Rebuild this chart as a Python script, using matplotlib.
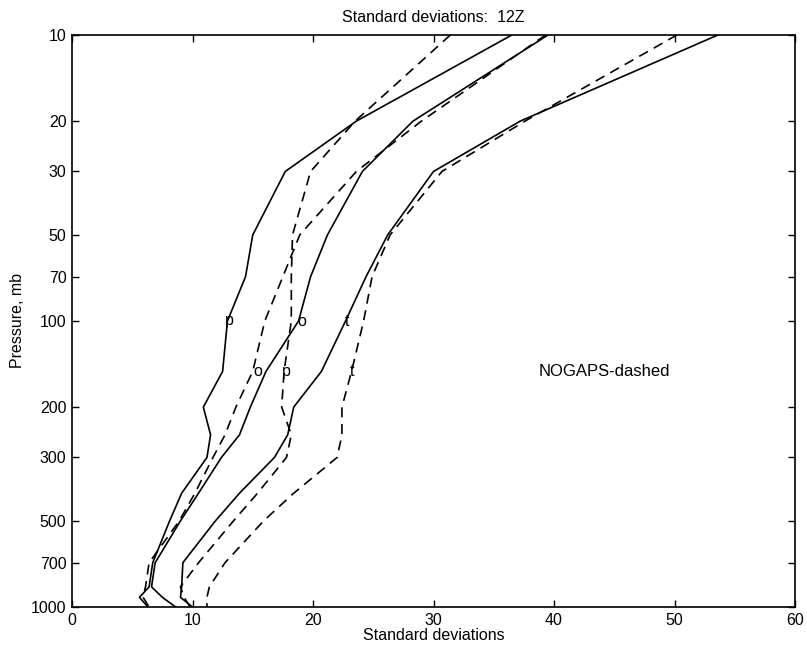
import numpy as np
import matplotlib
matplotlib.use('Agg')
import matplotlib.pyplot as plt

plt.rcParams['font.family'] = ['Liberation Sans', 'DejaVu Sans']

# pressure levels (mb)
lev = [10, 20, 30, 50, 70, 100, 150, 200, 250, 300, 400, 500, 700, 850, 925, 1000]

# standard deviations, solid = analysis, dashed = NOGAPS
p_solid = [36.5, 23.6, 17.7, 15.0, 14.4, 12.9, 12.5, 10.9, 11.5, 11.2, 9.1, 8.1, 6.7, 6.4, 5.6, 6.3]
o_solid = [39.5, 28.3, 24.1, 21.2, 19.8, 18.8, 16.1, 14.8, 13.9, 12.4, 10.5, 9.0, 6.9, 6.6, 7.5, 8.6]
t_solid = [53.6, 37.2, 30.0, 26.2, 24.4, 22.7, 20.7, 18.4, 17.9, 16.8, 13.9, 11.9, 9.2, 9.1, 9.0, 10.0]

p_dash = [31.4, 23.5, 19.8, 18.3, 18.2, 18.2, 17.6, 17.4, 18.2, 17.8, 15.4, 13.4, 10.5, 9.0, 9.3, 9.8]
o_dash = [39.3, 29.0, 23.6, 18.9, 17.5, 16.0, 15.0, 13.6, 12.7, 11.7, 10.2, 8.9, 6.4, 6.1, 5.9, 6.4]
t_dash = [50.2, 37.6, 30.7, 26.4, 24.9, 24.2, 23.2, 22.4, 22.4, 22.0, 18.4, 15.9, 12.7, 11.4, 11.2, 11.2]

# curve letters: (text, value, level)
tags = [('p', 13.1, 100), ('o', 19.1, 100), ('t', 22.8, 100),
        ('o', 15.4, 150), ('p', 17.8, 150), ('t', 23.2, 150)]

yticks = [10, 20, 30, 50, 70, 100, 200, 300, 500, 700, 1000]

fig = plt.figure(figsize=(8.07, 6.53), dpi=100)
ax = fig.add_axes([72/807, 1-607/653, 723/807, 572/653])

for s in [p_solid, o_solid, t_solid]:
    ax.plot(s, lev, color='k', lw=1.2)
for s in [p_dash, o_dash, t_dash]:
    ax.plot(s, lev, color='k', lw=1.2, linestyle=(0, (6, 4)))

for txt, x, y in tags:
    ax.text(x, y, txt, ha='center', va='center', fontsize=11.5)

ax.text(38.7, 150, 'NOGAPS-dashed', ha='left', va='center', fontsize=12)

ax.set_yscale('log')
ax.set_ylim(1000, 10)
ax.set_xlim(0, 60)
ax.set_yticks(yticks)
ax.set_yticklabels([str(v) for v in yticks])
ax.yaxis.set_minor_locator(matplotlib.ticker.NullLocator())
ax.set_xticks([0, 10, 20, 30, 40, 50, 60])

ax.tick_params(direction='in', top=True, right=True, length=5, width=1,
               labelsize=11.5, pad=4)
for sp in ax.spines.values():
    sp.set_linewidth(1.2)

ax.set_xlabel('Standard deviations', fontsize=11.5, labelpad=0)
ax.set_ylabel('Pressure, mb', fontsize=11.5, labelpad=4)
ax.set_title('Standard deviations:  12Z', fontsize=11.5, pad=9)

plt.savefig('out.png', dpi=100)
